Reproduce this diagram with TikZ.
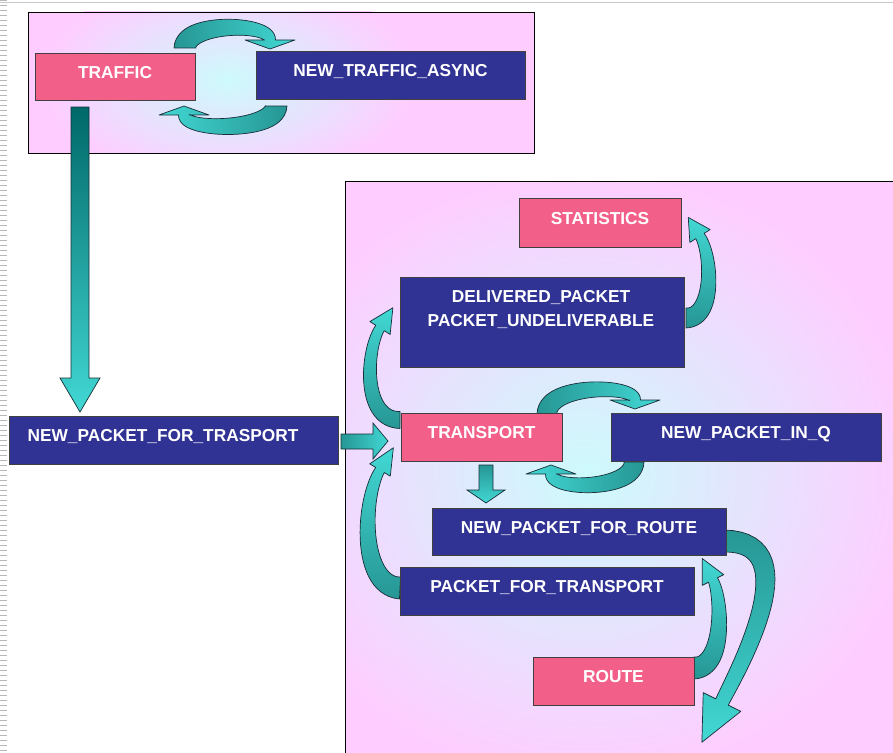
\documentclass[tikz,border=0pt]{standalone}
\usepackage{fontspec}
\setmainfont{Liberation Sans}
\usetikzlibrary{calc}

\definecolor{pnk}{RGB}{255,204,255}
\definecolor{glow}{RGB}{205,250,252}
\definecolor{boxpink}{RGB}{242,96,138}
\definecolor{navy}{RGB}{48,50,148}
\definecolor{tealD}{RGB}{38,150,148}
\definecolor{tealL}{RGB}{66,216,212}
\definecolor{tealX}{RGB}{0,104,104}
\definecolor{edge}{RGB}{25,45,55}

\def\bparse#1,#2,#3,#4,#5,#6,#7,#8;{\def\PAx{#1}\def\PAy{#2}\def\PBx{#3}\def\PBy{#4}\def\PCx{#5}\def\PCy{#6}\def\PDx{#7}\def\PDy{#8}}
\def\wparse#1,#2,#3,#4;{\def\Wa{#1}\def\Wb{#2}\def\Hh{#3}\def\Ll{#4}}

% curved block arrow along a cubic Bezier centre line
\newcommand\barrow[3]{%
  \bparse#1;\wparse#2;%
  \pgfmathsetmacro\Qq{\Wb/2+\Hh}%
  \coordinate (bC) at (\PCx,\PCy);%
  \coordinate (bD) at (\PDx,\PDy);%
  \path[carrow,#3]
    plot[variable=\s,domain=0:1,samples=32] ({bzx(\s)+bw(\s)*bnx(\s)},{bzy(\s)+bw(\s)*bny(\s)})
    -- ($(bD)!\Qq pt!90:(bC)$) -- ($(bD)!\Ll pt!180:(bC)$) -- ($(bD)!\Qq pt!-90:(bC)$)
    -- plot[variable=\s,domain=0:1,samples=32] ({bzx(1-\s)-bw(1-\s)*bnx(1-\s)},{bzy(1-\s)-bw(1-\s)*bny(1-\s)})
    -- cycle;}

\begin{document}
\begin{tikzpicture}[x=1pt,y=-1pt,
  declare function={
    bzx(\t)=(1-\t)*(1-\t)*(1-\t)*\PAx+3*(1-\t)*(1-\t)*\t*\PBx+3*(1-\t)*\t*\t*\PCx+\t*\t*\t*\PDx;
    bzy(\t)=(1-\t)*(1-\t)*(1-\t)*\PAy+3*(1-\t)*(1-\t)*\t*\PBy+3*(1-\t)*\t*\t*\PCy+\t*\t*\t*\PDy;
    bdx(\t)=3*(1-\t)*(1-\t)*(\PBx-\PAx)+6*(1-\t)*\t*(\PCx-\PBx)+3*\t*\t*(\PDx-\PCx);
    bdy(\t)=3*(1-\t)*(1-\t)*(\PBy-\PAy)+6*(1-\t)*\t*(\PCy-\PBy)+3*\t*\t*(\PDy-\PCy);
    bw(\t)=(\Wa+(\Wb-\Wa)*\t)/2;
    bnx(\t)=-bdy(\t)/veclen(bdx(\t),bdy(\t));
    bny(\t)=bdx(\t)/veclen(bdx(\t),bdy(\t));
  },
  carrow/.style={draw=edge,line width=0.7pt,line join=round},
  sarrow/.style={draw=edge,line width=0.7pt,line join=miter},
  txt/.style={font=\fontsize{17.3}{20}\selectfont\bfseries,text=white,inner sep=0pt,
              text height=12.4pt,text depth=8.5pt},
  pbox/.style={txt,draw=black!75,line width=0.8pt,fill=boxpink},
  nbox/.style={txt,draw=black!75,line width=0.8pt,fill=navy},
  panel/.style={draw=black,line width=0.9pt}
]
\useasboundingbox (0,0) rectangle (893,752);
\fill[white] (0,0) rectangle (893,752);
\draw[black!22,line width=0.8pt] (0,2.5) -- (893,2.5);
\draw[black!28,line width=7pt,dash pattern=on 1pt off 4pt] (3.5,0) -- (3.5,752);

% ---- top panel
\fill[pnk] (28,12) rectangle (534,153);
\begin{scope}
  \clip (28,12) rectangle (534,153);
  \shade[inner color=glow,outer color=pnk] (228,80) ellipse [x radius=190,y radius=105];
\end{scope}
\draw[panel] (28,12) rectangle (534,153);

% ---- big panel
\fill[pnk] (345,181) rectangle (900,760);
\begin{scope}
  \clip (345,181) rectangle (900,760);
  \shade[inner color=glow,outer color=pnk] (585,475) ellipse [x radius=340,y radius=310];
\end{scope}
\draw[panel] (345,181) rectangle (900,760);

% ---- curved arrows
\barrow{185,48,185,22,270,22,270,40}{22,11,19.5,9}{left color=tealD,right color=tealL}
\barrow{276,106,276,131,184,132,184,115}{22,11,19.5,9}{left color=tealL,right color=tealD}
\barrow{547,414,547,384,635,384,635,400}{20,11,19.5,9}{left color=tealD,right color=tealL}
\barrow{634,462,634,490,551,491,551,474}{20,11,19.5,9}{left color=tealL,right color=tealD}
\barrow{400,420,362,420,366,350,380,328}{17,10,7,24}{top color=tealL,bottom color=tealD}
\barrow{400,588,360,586,362,500,380,470}{22,10,7,26}{top color=tealL,bottom color=tealD}
\barrow{686,318,715,318,712,255,700,236}{20,10,7,22}{top color=tealL,bottom color=tealD}
\barrow{694,668,725,668,722,598,713,580}{22,10,7,24}{top color=tealL,bottom color=tealD}
\barrow{724,541,810,541,738,670,722,702}{22,14,14,45}{top color=tealD,bottom color=tealL}

% ---- boxes
\node[pbox,minimum width=160,minimum height=47] (traffic) at (115,76.5) {TRAFFIC};
\node[nbox,minimum width=269,minimum height=48] (async) at (390.5,75) {NEW\_TRAFFIC\_ASYNC};
\node[nbox,minimum width=329,minimum height=48] (npft) at (173.5,440) {};
\node[txt] (npftl) at (163,440) {NEW\_PACKET\_FOR\_TRASPORT};
\node[pbox,minimum width=162,minimum height=49] (stat) at (600,222.5) {STATISTICS};
\node[nbox,minimum width=284,minimum height=90] (deliv) at (542,322) {};
\node[txt] (deliva) at (541,300.75) {DELIVERED\_PACKET};
\node[txt] (delivb) at (541,324.25) {PACKET\_UNDELIVERABLE};
\node[pbox,minimum width=161,minimum height=48] (transport) at (481.5,437) {TRANSPORT};
\node[nbox,minimum width=270,minimum height=48] (inq) at (746,437) {NEW\_PACKET\_IN\_Q};
\node[nbox,minimum width=294,minimum height=47] (nroute) at (579,531.5) {NEW\_PACKET\_FOR\_ROUTE};
\node[nbox,minimum width=294,minimum height=48] (pft) at (547,591) {PACKET\_FOR\_TRANSPORT};
\node[pbox,minimum width=161,minimum height=48] (route) at (613.5,681) {ROUTE};

% ---- straight block arrows
\path[sarrow,top color=tealX,bottom color=tealL]
  (71,107) -- (89,107) -- (89,378) -- (100,378) -- (80,412) -- (60,378) -- (71,378) -- cycle;
\path[sarrow,left color=tealD,right color=tealL]
  (341,434) -- (373,434) -- (373,423) -- (388,441) -- (373,459) -- (373,449) -- (341,449) -- cycle;
\path[sarrow,top color=tealD,bottom color=tealL]
  (479,465) -- (493,465) -- (493,490) -- (505,490) -- (486,503) -- (467,490) -- (479,490) -- cycle;
\end{tikzpicture}
\end{document}
